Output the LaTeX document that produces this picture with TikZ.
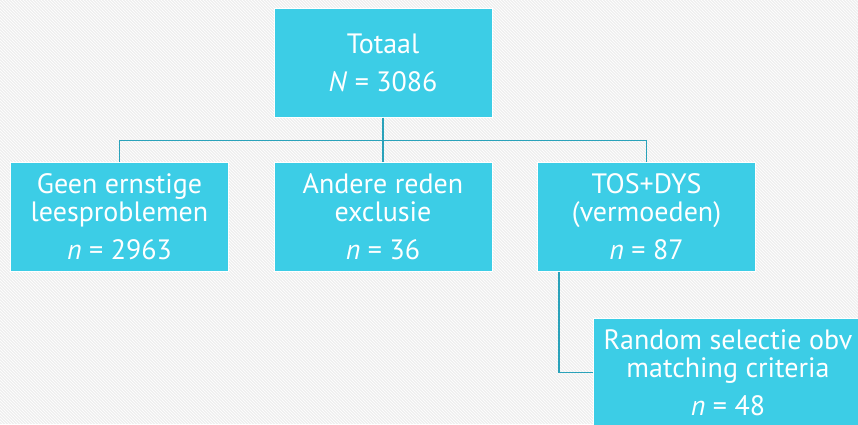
\documentclass[tikz,border=0pt]{standalone}
\usepackage{fontspec}
\setmainfont{PT Sans}
\usetikzlibrary{patterns}
\definecolor{boxfill}{HTML}{3CCDE6}
\definecolor{linecol}{HTML}{2AA2BA}
\definecolor{bgcol}{HTML}{EFEFEF}
\tikzset{
  flowbox/.style={rectangle, draw=white, line width=1pt, fill=boxfill,
    text=white, align=center, minimum width=218pt, minimum height=109pt,
    inner sep=0pt, font=\fontsize{28}{28}\selectfont},
  conn/.style={draw=linecol, line width=1.6pt}
}
\begin{document}
\begin{tikzpicture}[x=1pt,y=1pt]
\useasboundingbox (0,0) rectangle (858,-424);
\fill[bgcol] (0,0) rectangle (858,-424);
\fill[pattern=north west lines, pattern color=white] (0,0) rectangle (858,-424);
\node[flowbox] (tot) at (383,-62.5) {Totaal\\[10pt]\textit{N} = 3086};
\node[flowbox] (geen) at (119.5,-217) {Geen ernstige\\leesproblemen\\[10pt]\textit{n} = 2963};
\node[flowbox] (ander) at (383,-217) {Andere reden\\exclusie\\[10pt]\textit{n} = 36};
\node[flowbox] (tos) at (646.5,-217) {TOS+DYS\\(vermoeden)\\[10pt]\textit{n} = 87};
\node[flowbox, minimum width=270pt] (rand) at (728,-372.5) {Random selectie obv\\matching criteria\\[10pt]\textit{n} = 48};
\coordinate (hub) at (383,-140.5);
\coordinate (tosdrop) at ([xshift=22pt]tos.south west);
\draw[conn] (tot.south) -- (ander.north);
\draw[conn] (geen.north) |- (hub) -| (tos.north);
\draw[conn] (tosdrop) |- (rand.west);
\end{tikzpicture}
\end{document}
